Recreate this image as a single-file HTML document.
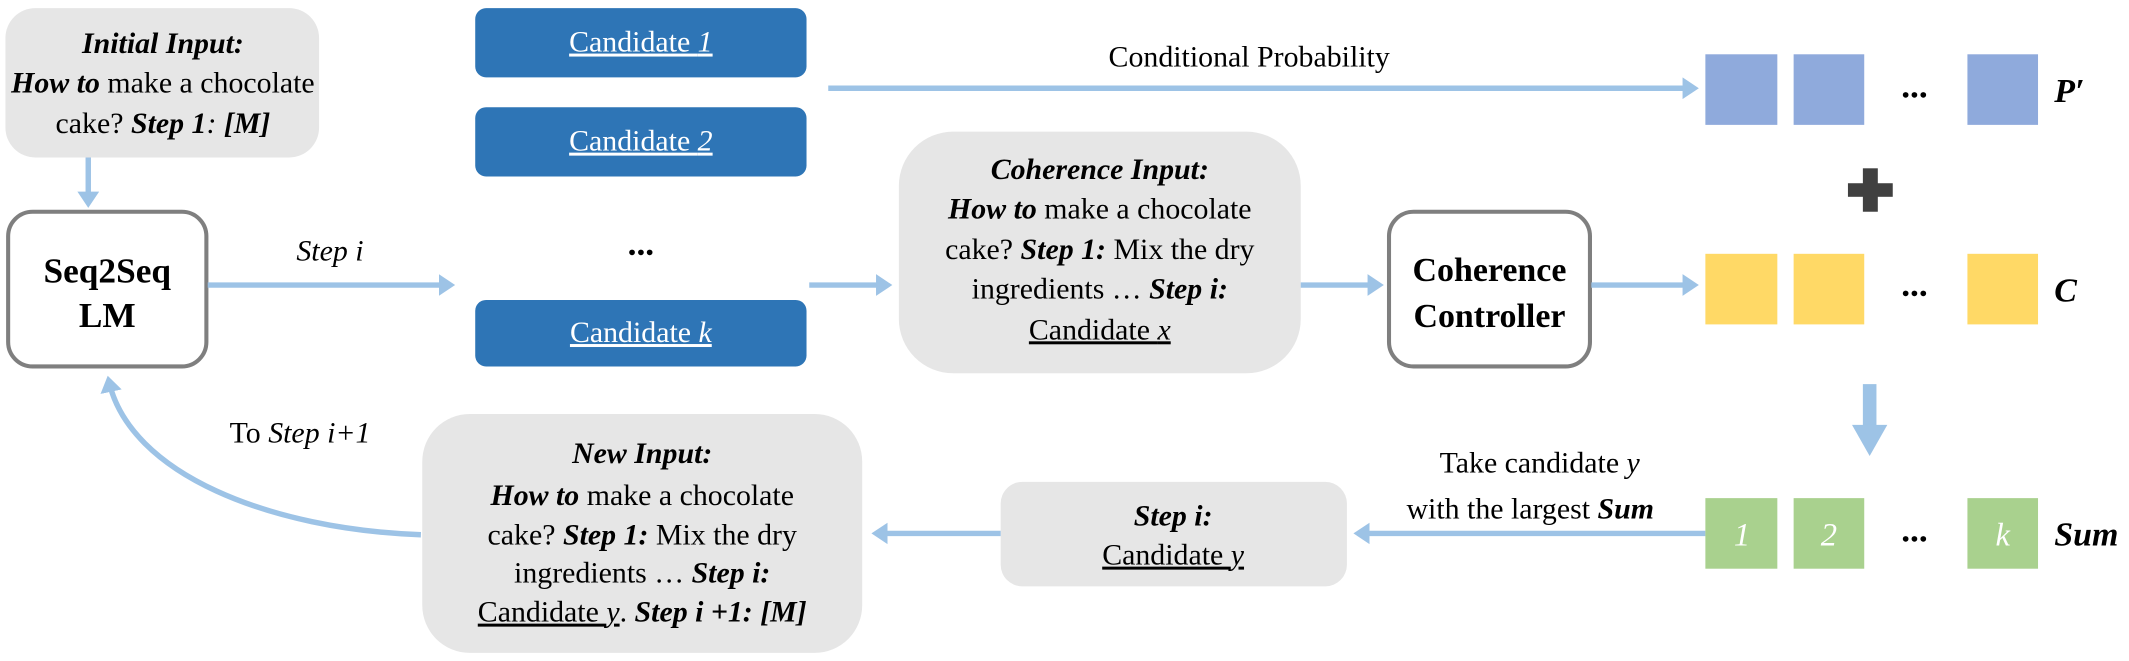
<!DOCTYPE html>
<html><head><meta charset="utf-8"><style>html,body{margin:0;padding:0;background:#fff}svg{display:block}svg text,svg tspan{font-family:"Liberation Serif","Times New Roman",Times,"DejaVu Serif","Noto Serif CJK SC",serif}</style></head><body>
<svg width="2129" height="661" viewBox="0 0 1568 487" preserveAspectRatio="none" xmlns="http://www.w3.org/2000/svg" font-size="22">
<defs>
<marker id="a" markerWidth="4" markerHeight="4" refX="2.2" refY="2" orient="auto" markerUnits="strokeWidth"><path d="M0,0 L3,2 L0,4 Z" fill="#9dc3e6"/></marker>
</defs>
<g fill="#e6e6e6">
<rect x="4" y="6" width="231" height="110" rx="22"/>
<rect x="662" y="97" width="296" height="178" rx="40"/>
<rect x="311" y="305" width="324" height="176" rx="35"/>
<rect x="737" y="355" width="255" height="77" rx="16"/>
</g>
<g fill="#2e75b6">
<rect x="350" y="6" width="244" height="51" rx="8"/>
<rect x="350" y="79" width="244" height="51" rx="8"/>
<rect x="350" y="221" width="244" height="49" rx="8"/>
</g>
<rect x="6" y="156" width="146" height="114" rx="18" fill="#fff" stroke="#7f7f7f" stroke-width="3"/>
<rect x="1023" y="156" width="148" height="114" rx="18" fill="#fff" stroke="#7f7f7f" stroke-width="3"/>
<g stroke="#9dc3e6" stroke-width="4" fill="none" marker-end="url(#a)">
<line x1="65" y1="116" x2="65" y2="150"/>
<line x1="153" y1="210" x2="332" y2="210"/>
<line x1="610" y1="65" x2="1248" y2="65"/>
<line x1="596" y1="210" x2="654" y2="210"/>
<line x1="958" y1="210" x2="1016" y2="210"/>
<line x1="1172" y1="210" x2="1248" y2="210"/>
<line x1="1256" y1="393" x2="1000" y2="393"/>
<line x1="737" y1="393" x2="645" y2="393"/>
<path d="M310,394 C200,390 95,350 80,280"/>
</g>
<rect x="1372" y="283" width="10" height="32" fill="#9dc3e6"/>
<path d="M1364,313 L1390,313 L1377,336 Z" fill="#9dc3e6"/>
<g fill="#404040"><rect x="1361" y="135" width="33" height="10"/><rect x="1372" y="124" width="11" height="32"/></g>
<g fill="#8faadc"><rect x="1256" y="40" width="53" height="52"/><rect x="1321" y="40" width="52" height="52"/><rect x="1449" y="40" width="52" height="52"/></g>
<g fill="#ffd966"><rect x="1256" y="187" width="53" height="52"/><rect x="1321" y="187" width="52" height="52"/><rect x="1449" y="187" width="52" height="52"/></g>
<g fill="#a9d18e"><rect x="1256" y="367" width="53" height="52"/><rect x="1321" y="367" width="52" height="52"/><rect x="1449" y="367" width="52" height="52"/></g>
<g text-anchor="middle" fill="#000">
<text x="120" y="39" font-weight="bold" font-style="italic">Initial Input:</text>
<text x="120" y="68"><tspan font-weight="bold" font-style="italic">How to</tspan> make a chocolate</text>
<text x="120" y="98">cake? <tspan font-weight="bold" font-style="italic">Step 1</tspan><tspan font-style="italic">:</tspan> <tspan font-weight="bold" font-style="italic">[M]</tspan></text>
<text x="79" y="208" font-weight="bold" font-size="26">Seq2Seq</text>
<text x="79" y="241" font-weight="bold" font-size="26">LM</text>
<text x="243" y="192" font-style="italic">Step i</text>
<text x="472" y="38" fill="#fff" text-decoration="underline">Candidate <tspan font-style="italic">1</tspan></text>
<text x="472" y="111" fill="#fff" text-decoration="underline">Candidate <tspan font-style="italic">2</tspan></text>
<text x="472" y="252" fill="#fff" text-decoration="underline">Candidate <tspan font-style="italic">k</tspan></text>
<text x="472" y="188" font-weight="bold" font-size="26">...</text>
<text x="920" y="49">Conditional Probability</text>
<text x="810" y="132" font-weight="bold" font-style="italic">Coherence Input:</text>
<text x="810" y="161"><tspan font-weight="bold" font-style="italic">How to</tspan> make a chocolate</text>
<text x="810" y="191">cake? <tspan font-weight="bold" font-style="italic">Step 1:</tspan> Mix the dry</text>
<text x="810" y="220">ingredients … <tspan font-weight="bold" font-style="italic">Step i:</tspan></text>
<text x="810" y="250" text-decoration="underline">Candidate <tspan font-style="italic">x</tspan></text>
<text x="1097" y="207" font-weight="bold" font-size="25">Coherence</text>
<text x="1097" y="241" font-weight="bold" font-size="25">Controller</text>
<text x="1410" y="72" font-weight="bold" font-size="26">...</text>
<text x="1410" y="218" font-weight="bold" font-size="26">...</text>
<text x="1410" y="399" font-weight="bold" font-size="26">...</text>
<text x="1283" y="402" fill="#fff" font-style="italic" font-size="24">1</text>
<text x="1347" y="402" fill="#fff" font-style="italic" font-size="24">2</text>
<text x="1475" y="402" fill="#fff" font-style="italic" font-size="24">k</text>
<text x="1134" y="348">Take candidate <tspan font-style="italic">y</tspan></text>
<text x="1127" y="382">with the largest <tspan font-weight="bold" font-style="italic">Sum</tspan></text>
<text x="864" y="387" font-weight="bold" font-style="italic">Step i:</text>
<text x="864" y="416" text-decoration="underline">Candidate <tspan font-style="italic">y</tspan></text>
<text x="473" y="341" font-weight="bold" font-style="italic">New Input:</text>
<text x="473" y="372"><tspan font-weight="bold" font-style="italic">How to</tspan> make a chocolate</text>
<text x="473" y="401">cake? <tspan font-weight="bold" font-style="italic">Step 1:</tspan> Mix the dry</text>
<text x="473" y="429">ingredients …  <tspan font-weight="bold" font-style="italic">Step i:</tspan></text>
<text x="473" y="458"><tspan text-decoration="underline">Candidate <tspan font-style="italic">y</tspan></tspan>. <tspan font-weight="bold" font-style="italic">Step i +1: [M]</tspan></text>
<text x="221" y="326">To <tspan font-style="italic">Step i+1</tspan></text>
</g>
<g font-weight="bold" font-style="italic" font-size="25">
<text x="1513" y="75">P′</text>
<text x="1513" y="222">C</text>
<text x="1513" y="402">Sum</text>
</g>
</svg>
</body></html>
